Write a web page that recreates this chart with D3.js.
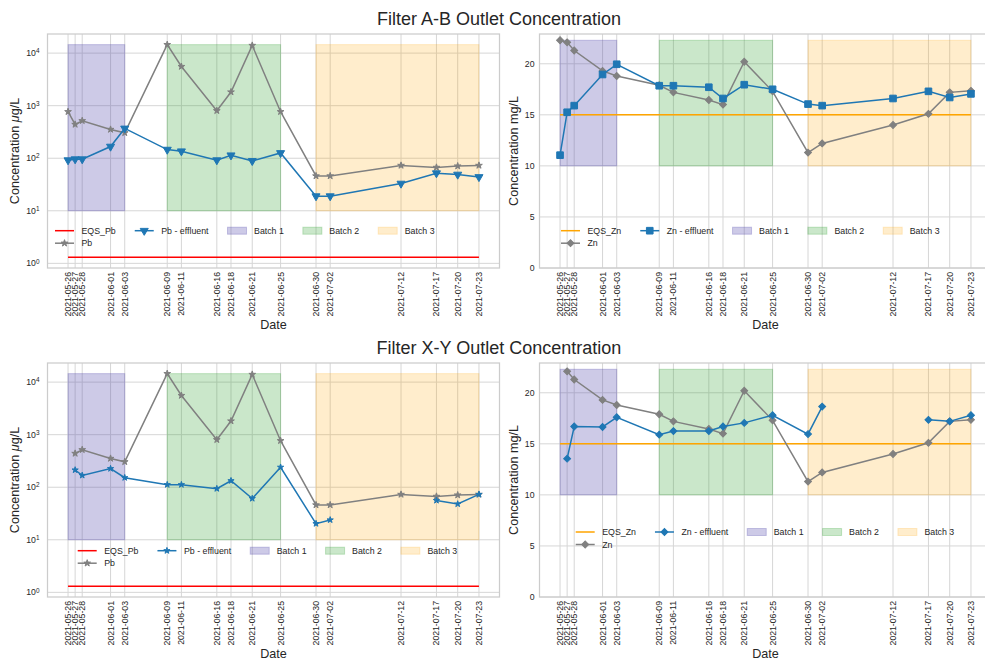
<!DOCTYPE html>
<html>
<head>
<meta charset="utf-8">
<script src="https://cdn.jsdelivr.net/npm/d3@7"></script>
<style>
  body { margin: 0; background: #fff; }
  svg { display: block; font-family: 'Liberation Sans', Arial, sans-serif; }
</style>
</head>
<body>
<div id="chart"></div>
<script>
/* global d3 */

// Sampling dates (shared by all four panels)
const DATES = [
  '2021-05-26', '2021-05-27', '2021-05-28', '2021-06-01', '2021-06-03',
  '2021-06-09', '2021-06-11', '2021-06-16', '2021-06-18', '2021-06-21',
  '2021-06-25', '2021-06-30', '2021-07-02', '2021-07-12', '2021-07-17',
  '2021-07-20', '2021-07-23'
]

// Filter A-B
const PB_AB = [768, 440, 517, 353, 305, 14500, 5560, 802, 1820, 14000, 768, 46, 46, 73, 67, 71, 73]
const PB_EFF_AB = [92, 96, 96, 167, 369, 146, 136, 92, 114, 89, 126, 19, 19, 33, 52, 49, 44]
const ZN_AB = [22.3, 22.1, 21.3, 19.3, 18.8, 17.9, 17.2, 16.45, 16.0, 20.2, 17.3, 11.3, 12.2, 14.0, 15.1, 17.2, 17.35]
const ZN_EFF_AB = [11.05, 15.25, 15.9, 18.95, 19.95, 17.85, 17.85, 17.7, 16.6, 17.95, 17.5, 16.05, 15.9, 16.6, 17.3, 16.7, 17.05]

// Filter X-Y (null = no sample)
const PB_XY = [null, 440, 517, 353, 305, 14500, 5560, 802, 1820, 14000, 768, 46, 46, 73, 67, 71, 73]
const PB_EFF_XY = [null, 213, 168, 226, 152, 112, 112, 94, 133, 61, 240, 20.3, 23.9, null, 56, 48, 73]
const ZN_XY = [null, 22.1, 21.3, 19.3, 18.8, 17.9, 17.2, 16.45, 16.0, 20.2, 17.3, 11.3, 12.2, 14.0, 15.1, 17.2, 17.35]
const ZN_EFF_XY = [null, 13.55, 16.7, 16.65, 17.6, 15.9, 16.25, 16.25, 16.7, 17.05, 17.8, 15.95, 18.65, null, 17.35, 17.2, 17.8]

// Quality standards
const EQS_PB = 1.3
const EQS_ZN = 15

// Batches
const BATCH_NAMES = ['Batch 1', 'Batch 2', 'Batch 3']
const BATCH_STARTS = ['2021-05-26', '2021-06-09', '2021-06-30']
const BATCH_ENDS = ['2021-06-03', '2021-06-25', '2021-07-23']
const BATCH_LOW = 10

const Y_TICKS_PB = [1, 10, 100, 1000, 10000]
const Y_TICKS_ZN = [0, 5, 10, 15, 20]

// Styles
const WIDTH = 985
const HEIGHT = 661
const PANEL_W = 452
const PANEL_H = 234
const TEXT_COLOR = '#262626'
const GRID_COLOR = '#d6d6d6'
const FRAME_COLOR = '#cccccc'
const BLUE = '#1f77b4'
const GREY = 'grey'
const BATCH_COLORS = ['#5b4fb0', '#2ca02c', '#ffa500']
const BATCH_ALPHA = [0.3, 0.25, 0.2]

const parse = d3.timeParse('%Y-%m-%d')
const dates = DATES.map(parse)

const svg = d3.select('#chart')
  .append('svg')
  .attr('width', WIDTH)
  .attr('height', HEIGHT)

const MARKERS = {
  triangleDown: { path: d3.symbol(d3.symbolTriangle, 28)(), rotate: 180 },
  star: { path: d3.symbol(d3.symbolStar, 14)(), rotate: 0 },
  starSmall: { path: d3.symbol(d3.symbolStar, 12)(), rotate: 0 },
  square: { path: d3.symbol(d3.symbolSquare, 44)(), rotate: 0 },
  diamond: { path: d3.symbol(d3.symbolSquare, 24)(), rotate: 45 }
}

const t0 = dates[0]
const t1 = dates[dates.length - 1]
const tPad = (t1 - t0) * 0.05
const X_DOMAIN = [new Date(+t0 - tPad), new Date(+t1 + tPad)]

function logDomain (lo, hi) {
  const a = Math.log10(lo)
  const b = Math.log10(hi)
  const m = (b - a) * 0.05
  return [10 ** (a - m), 10 ** (b + m)]
}

const PB_MAX = d3.max(PB_AB)
const ZN_MAX = d3.max(ZN_AB)

function drawPanel (p) {
  const g = svg.append('g')
  const bottom = p.top + PANEL_H
  const x = d3.scaleTime().domain(X_DOMAIN).range([p.left, p.left + PANEL_W])
  const y = (p.log ? d3.scaleLog() : d3.scaleLinear())
    .domain(p.log ? logDomain(p.eqs, p.spanTop) : [0, p.spanTop + (p.spanTop - BATCH_LOW) * 0.05])
    .range([bottom, p.top])

  // grid
  g.append('g').selectAll('line').data(dates).join('line')
    .attr('x1', d => x(d)).attr('x2', d => x(d))
    .attr('y1', p.top).attr('y2', bottom)
    .attr('stroke', GRID_COLOR).attr('stroke-width', 1)
  g.append('g').selectAll('line').data(p.yTicks).join('line')
    .attr('x1', p.left).attr('x2', p.left + PANEL_W)
    .attr('y1', d => y(d)).attr('y2', d => y(d))
    .attr('stroke', GRID_COLOR).attr('stroke-width', 1)

  // batch spans
  g.append('g').selectAll('rect').data(d3.range(BATCH_NAMES.length)).join('rect')
    .attr('x', i => x(parse(BATCH_STARTS[i])))
    .attr('width', i => x(parse(BATCH_ENDS[i])) - x(parse(BATCH_STARTS[i])))
    .attr('y', y(p.spanTop))
    .attr('height', y(BATCH_LOW) - y(p.spanTop))
    .attr('fill', i => BATCH_COLORS[i])
    .attr('fill-opacity', i => BATCH_ALPHA[i])
    .attr('stroke', i => BATCH_COLORS[i])
    .attr('stroke-opacity', i => BATCH_ALPHA[i])

  // EQS line
  g.append('line')
    .attr('x1', x(t0)).attr('x2', x(t1))
    .attr('y1', y(p.eqs)).attr('y2', y(p.eqs))
    .attr('stroke', p.eqsColor).attr('stroke-width', 1.5)

  // series
  const series = [
    { values: p.raw, color: GREY, marker: p.rawMarker },
    { values: p.eff, color: BLUE, marker: p.effMarker }
  ]
  series.forEach(s => {
    const pts = dates.map((d, i) => ({ d, v: s.values[i] }))
    const line = d3.line().defined(d => d.v != null).x(d => x(d.d)).y(d => y(d.v))
    g.append('path').attr('d', line(pts))
      .attr('fill', 'none').attr('stroke', s.color).attr('stroke-width', 1.5)
    g.append('g').selectAll('path').data(pts.filter(d => d.v != null)).join('path')
      .attr('d', MARKERS[s.marker].path)
      .attr('transform', d => `translate(${x(d.d)},${y(d.v)}) rotate(${MARKERS[s.marker].rotate})`)
      .attr('fill', s.color).attr('stroke', s.color).attr('stroke-width', 1)
  })

  // frame
  g.append('rect')
    .attr('x', p.left).attr('y', p.top)
    .attr('width', PANEL_W).attr('height', PANEL_H)
    .attr('fill', 'none').attr('stroke', FRAME_COLOR).attr('stroke-width', 1.25)

  // x tick labels
  g.append('g').selectAll('text').data(DATES).join('text')
    .attr('transform', (d, i) => `translate(${x(dates[i])},${bottom + 4}) rotate(-90)`)
    .attr('dy', '0.35em')
    .attr('text-anchor', 'end')
    .attr('font-size', '8.7px')
    .attr('fill', TEXT_COLOR)
    .text(d => d)

  // y tick labels
  const yt = g.append('g').selectAll('text').data(p.yTicks).join('text')
    .attr('x', p.left - (p.log ? 8 : 5))
    .attr('y', d => y(d))
    .attr('dy', '0.35em')
    .attr('text-anchor', 'end')
    .attr('font-size', '8.7px')
    .attr('fill', TEXT_COLOR)
  if (p.log) {
    yt.text('10').append('tspan')
      .attr('dy', '-0.45em')
      .attr('font-size', '6.4px')
      .text(d => Math.round(Math.log10(d)))
  } else {
    yt.text(d => d)
  }

  // axis labels
  g.append('text')
    .attr('transform', `translate(${p.left - p.yLabelOffset},${p.top + PANEL_H / 2}) rotate(-90)`)
    .attr('text-anchor', 'middle')
    .attr('font-size', '12.6px')
    .attr('fill', TEXT_COLOR)
    .call(t => {
      if (p.log) {
        t.append('tspan').text('Concentration ')
        t.append('tspan').attr('font-style', 'italic').text('\u03bc')
        t.append('tspan').text('g/L')
      } else {
        t.text('Concentration mg/L')
      }
    })
  g.append('text')
    .attr('x', p.left + PANEL_W / 2)
    .attr('y', p.top + 294.5)
    .attr('text-anchor', 'middle')
    .attr('font-size', '12.6px')
    .attr('fill', TEXT_COLOR)
    .text('Date')

  // legend
  const columns = [
    [{ label: p.eqsLabel, color: p.eqsColor }, { label: p.rawLabel, color: GREY, marker: p.rawMarker }],
    [{ label: p.effLabel, color: BLUE, marker: p.effMarker }]
  ].concat(BATCH_NAMES.map((n, i) => [{ label: n, batch: i }]))

  const lg = g.append('g').attr('font-size', '8.8px').attr('fill', TEXT_COLOR)
  let cx = p.left + p.legend[0]
  const ry = p.top + p.legend[1]
  columns.forEach(col => {
    let colW = 0
    col.forEach((e, r) => {
      const cy = ry + r * 12.5
      if (e.batch != null) {
        lg.append('rect')
          .attr('x', cx).attr('y', cy - 3.5).attr('width', 19).attr('height', 7)
          .attr('fill', BATCH_COLORS[e.batch]).attr('fill-opacity', BATCH_ALPHA[e.batch])
          .attr('stroke', BATCH_COLORS[e.batch]).attr('stroke-opacity', BATCH_ALPHA[e.batch])
      } else {
        lg.append('line')
          .attr('x1', cx).attr('x2', cx + 19).attr('y1', cy).attr('y2', cy)
          .attr('stroke', e.color).attr('stroke-width', 1.5)
        if (e.marker) {
          lg.append('path')
            .attr('d', MARKERS[e.marker].path)
            .attr('transform', `translate(${cx + 9.5},${cy}) rotate(${MARKERS[e.marker].rotate})`)
            .attr('fill', e.color).attr('stroke', e.color)
        }
      }
      const t = lg.append('text')
        .attr('x', cx + 26.5).attr('y', cy).attr('dy', '0.35em')
        .text(e.label)
      colW = Math.max(colW, t.node().getComputedTextLength())
    })
    cx += 26.5 + colW + 19
  })
}

const LEFT_X = 47.5
const RIGHT_X = 539.5
const TOP_Y = 34
const BOTTOM_Y = 363

drawPanel({
  left: LEFT_X, top: TOP_Y, log: true, yTicks: Y_TICKS_PB, yLabelOffset: 29,
  raw: PB_AB, eff: PB_EFF_AB, eqs: EQS_PB, spanTop: PB_MAX, eqsColor: 'red',
  rawMarker: 'star', effMarker: 'triangleDown',
  eqsLabel: 'EQS_Pb', rawLabel: 'Pb', effLabel: 'Pb - effluent', legend: [7.5, 196.7]
})
drawPanel({
  left: RIGHT_X, top: TOP_Y, log: false, yTicks: Y_TICKS_ZN, yLabelOffset: 22,
  raw: ZN_AB, eff: ZN_EFF_AB, eqs: EQS_ZN, spanTop: ZN_MAX, eqsColor: 'orange',
  rawMarker: 'diamond', effMarker: 'square',
  eqsLabel: 'EQS_Zn', rawLabel: 'Zn', effLabel: 'Zn - effluent', legend: [21.5, 196.7]
})
drawPanel({
  left: LEFT_X, top: BOTTOM_Y, log: true, yTicks: Y_TICKS_PB, yLabelOffset: 29,
  raw: PB_XY, eff: PB_EFF_XY, eqs: EQS_PB, spanTop: PB_MAX, eqsColor: 'red',
  rawMarker: 'star', effMarker: 'starSmall',
  eqsLabel: 'EQS_Pb', rawLabel: 'Pb', effLabel: 'Pb - effluent', legend: [30.2, 187.7]
})
drawPanel({
  left: RIGHT_X, top: BOTTOM_Y, log: false, yTicks: Y_TICKS_ZN, yLabelOffset: 22,
  raw: ZN_XY, eff: ZN_EFF_XY, eqs: EQS_ZN, spanTop: ZN_MAX, eqsColor: 'orange',
  rawMarker: 'diamond', effMarker: 'diamond',
  eqsLabel: 'EQS_Zn', rawLabel: 'Zn', effLabel: 'Zn - effluent', legend: [36.2, 169]
})

// titles
svg.append('text')
  .attr('x', 499).attr('y', 25)
  .attr('text-anchor', 'middle').attr('font-size', '18px').attr('fill', TEXT_COLOR)
  .text('Filter A-B Outlet Concentration')
svg.append('text')
  .attr('x', 499).attr('y', 354)
  .attr('text-anchor', 'middle').attr('font-size', '18px').attr('fill', TEXT_COLOR)
  .text('Filter X-Y Outlet Concentration')
</script>
</body>
</html>
